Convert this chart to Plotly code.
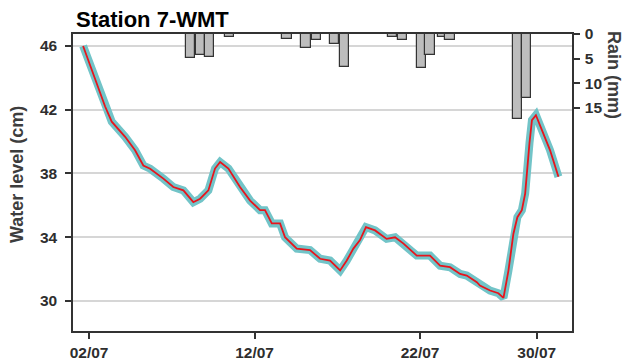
import plotly.graph_objects as go

# Water level record (day of July, cm)
level_day = [1.64, 2.06, 2.46, 2.97, 3.37, 4.18, 4.78, 5.28, 5.69, 6.49, 7.09, 7.70,
             8.30, 8.71, 9.21, 9.61, 9.92, 10.42, 11.12, 11.73, 12.33, 12.63, 13.04,
             13.54, 13.84, 14.55, 15.35, 15.96, 16.56, 17.17, 17.57, 17.97, 18.37,
             18.73, 19.28, 19.98, 20.49, 21.00, 21.80, 22.60, 23.21, 23.81, 24.42,
             24.82, 25.43, 25.62, 26.23, 26.73, 27.04, 27.34, 27.64, 27.88, 28.15,
             28.35, 28.61, 28.76, 29.00, 29.35, 29.85, 30.36]
level_cm = [46.0, 44.8, 43.66, 42.2, 41.25, 40.3, 39.46, 38.5, 38.3, 37.68, 37.15, 36.94,
            36.2, 36.42, 36.94, 38.31, 38.72, 38.31, 37.15, 36.3, 35.7, 35.7, 34.87,
            34.87, 34.0, 33.29, 33.2, 32.65, 32.54, 31.92, 32.54, 33.29, 33.82,
            34.64, 34.43, 33.9, 34.0, 33.6, 32.85, 32.85, 32.22, 32.12, 31.7,
            31.6, 31.18, 30.97, 30.66, 30.49, 30.2, 31.91, 34.22, 35.26, 35.7,
            36.74, 39.9, 41.35, 41.66, 40.8, 39.47, 37.8]

# Rainfall events (day of July, mm)
rain_day = [8.13, 8.74, 9.28, 10.46, 13.96, 15.11, 15.72, 16.83, 17.44, 20.31, 20.94,
            22.09, 22.60, 23.33, 23.81, 27.86, 28.45]
rain_mm = [4.9, 4.2, 4.6, 0.6, 1.0, 2.8, 1.3, 2.1, 6.7, 0.6, 1.3,
           7.0, 4.2, 0.7, 1.3, 17.2, 13.0]

# Axis ticks
x_tickvals = [2, 12, 22, 29.05]
x_ticktext = ["02/07", "12/07", "22/07", "30/07"]
level_ticks = [30, 34, 38, 42, 46]
rain_ticks = [0, 5, 10, 15]

FONT = "Liberation Sans, Arial"
axis_col = "#333333"
tick_font = dict(family=FONT, size=15.5, color="#2e2e2e", weight="bold")

fig = go.Figure()

# Raw record drawn as a wide band, smoothed series on top
fig.add_trace(go.Scatter(
    x=level_day, y=level_cm, mode="lines",
    line=dict(color="#72c4c8", width=8), yaxis="y", showlegend=False,
))
fig.add_trace(go.Scatter(
    x=level_day, y=level_cm, mode="lines",
    line=dict(color="#e8141c", width=1.8), yaxis="y", showlegend=False,
))
fig.add_trace(go.Bar(
    x=rain_day, y=rain_mm, width=0.55, yaxis="y2",
    marker=dict(color="#bdbdbd", line=dict(color="#333333", width=1.2)),
    showlegend=False,
))

fig.update_layout(
    width=628, height=364,
    margin=dict(l=73, r=56, t=34, b=33),
    plot_bgcolor="white", paper_bgcolor="white",
    xaxis=dict(
        range=[1.03, 31.18], tickvals=x_tickvals, ticktext=x_ticktext,
        ticks="outside", ticklen=6, tickwidth=1.5, tickcolor=axis_col,
        showline=True, linecolor=axis_col, linewidth=1.5, mirror=True,
        showgrid=False, zeroline=False, tickfont=tick_font, ticklabelstandoff=1,
        automargin=False,
    ),
    yaxis=dict(
        range=[28.12, 46.75], tickvals=level_ticks,
        ticks="outside", ticklen=6, tickwidth=1.5, tickcolor=axis_col,
        showline=True, linecolor=axis_col, linewidth=1.5, mirror=True,
        showgrid=True, gridcolor="#d6d6d6", gridwidth=1.5, zeroline=False,
        tickfont=tick_font, ticklabelstandoff=5, automargin=False,
    ),
    yaxis2=dict(
        overlaying="y", side="right", range=[60.3, 0], tickvals=rain_ticks,
        ticks="outside", ticklen=6, tickwidth=1.5, tickcolor=axis_col,
        showline=True, linecolor=axis_col, linewidth=1.5,
        showgrid=False, zeroline=False, tickfont=tick_font, ticklabelstandoff=2,
        automargin=False,
    ),
    bargap=0,
    annotations=[
        dict(text="Station 7-WMT", xref="paper", yref="paper", x=0, y=1.0,
             xanchor="left", yanchor="middle", xshift=1, yshift=15, showarrow=False,
             font=dict(family=FONT, size=22, color="black", weight="bold")),
        dict(text="Water level (cm)", xref="paper", yref="paper", x=0, y=0.525,
             xanchor="center", yanchor="middle", xshift=-56, textangle=-90, showarrow=False,
             font=dict(family=FONT, size=18, color="#3d3d3d", weight="bold")),
        dict(text="Rain (mm)", xref="paper", yref="paper", x=1, y=1,
             xanchor="center", yanchor="middle", xshift=42, yshift=-41, textangle=90,
             showarrow=False,
             font=dict(family=FONT, size=18, color="#3d3d3d", weight="bold")),
    ],
)

fig.write_html("out.html")
